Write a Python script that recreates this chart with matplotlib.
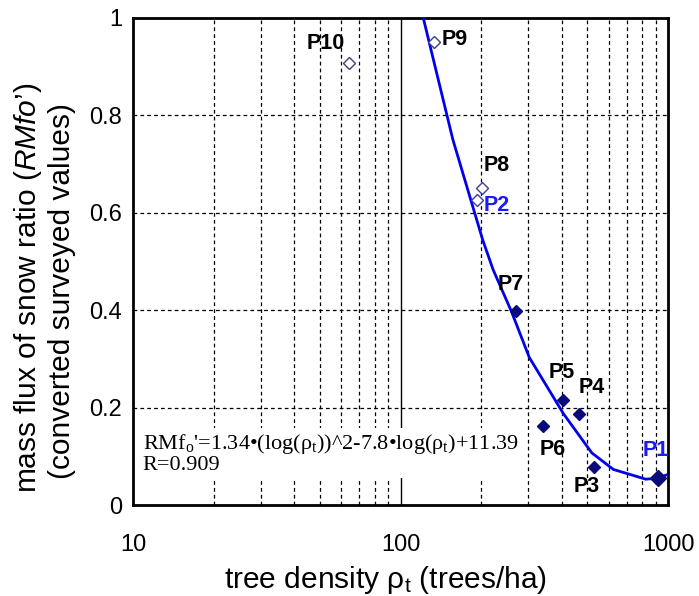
import matplotlib
matplotlib.use("Agg")
import matplotlib.pyplot as plt
from matplotlib.ticker import FixedLocator, NullFormatter

plt.rcParams['font.family'] = ['Liberation Sans', 'DejaVu Sans']
plt.rcParams['mathtext.fontset'] = 'custom'
plt.rcParams['mathtext.rm'] = 'Liberation Sans'
plt.rcParams['mathtext.it'] = 'Liberation Sans:italic'

# Surveyed points (open = P2, P8, P9, P10 ; filled = P3..P7 ; P1 large)
open_labels = ["P10", "P9", "P8", "P2"]
open_x = [64, 133, 202, 193]
open_y = [0.908, 0.951, 0.651, 0.626]

filled_labels = ["P7", "P5", "P4", "P6", "P3"]
filled_x = [270, 405, 465, 341, 529]
filled_y = [0.398, 0.216, 0.187, 0.162, 0.078]

p1_x = [918]
p1_y = [0.055]

# Regression curve
curve_x = [118, 157, 203, 222, 260, 303, 406, 519, 625, 826, 918, 1000]
curve_y = [1.03, 0.75, 0.544, 0.483, 0.397, 0.303, 0.188, 0.107, 0.073, 0.053, 0.055, 0.063]

# Point labels
label_text = ["P10", "P9", "P8", "P2", "P7", "P5", "P4", "P6", "P3", "P1"]
label_x = [52.7, 160, 229.5, 229.5, 259, 401.5, 520, 372, 498, 902]
label_y = [0.947, 0.955, 0.698, 0.616, 0.452, 0.273, 0.242, 0.113, 0.037, 0.111]
label_col = ["black", "black", "black", "#1a1aff", "black", "black", "black", "black", "black", "#1a1aff"]

xticks = [10, 100, 1000]
xtick_labels = ["10", "100", "1000"]
yticks = [0, 0.2, 0.4, 0.6, 0.8, 1]
ytick_labels = ["0", "0.2", "0.4", "0.6", "0.8", "1"]

fig = plt.figure(figsize=(6.99, 5.96), dpi=100)
ax = fig.add_axes([133/699, 1-505/596, (668-133)/699, (505-18)/596])
ax.set_xscale('log')
ax.set_xlim(10, 1000)
ax.set_ylim(0, 1)

# grid
minor = [m*10**d for d in (1, 2) for m in range(2, 10)]
for v in minor:
    ax.axvline(v, color='black', lw=0.9, ls=(0, (3, 2.5)), zorder=1)
ax.axvline(100, color='black', lw=1.0, zorder=1)
for v in [0.2, 0.4, 0.6, 0.8]:
    ax.axhline(v, color='black', lw=0.9, ls=(0, (3, 2.5)), zorder=1)

ax.plot(curve_x, curve_y, color='#0000ee', lw=2.0, zorder=3, clip_on=True)

ax.plot(open_x, open_y, ls='none', marker='D', ms=6, mfc='white', mec='#3c3c96', mew=1.0, zorder=4)
ax.plot(filled_x, filled_y, ls='none', marker='D', ms=6, mfc='#0a0a78', mec='#0a0a78', zorder=4)
ax.plot(p1_x, p1_y, ls='none', marker='D', ms=8.5, mfc='#0a0a78', mec='#0a0a78', zorder=5, clip_on=False)

for t, x, y, c in zip(label_text, label_x, label_y, label_col):
    ax.text(x, y, t, color=c, fontsize=15.5, fontweight='bold', ha='center', va='center', zorder=6)

ax.text(0.018, 0.105,
        "RMf$_\\mathregular{o}$'=1.34\u2022(log(\u03c1$_\\mathregular{t}$))^2-7.8\u2022log(\u03c1$_\\mathregular{t}$)+11.39\nR=0.909",
        transform=ax.transAxes, family=['Liberation Serif', 'DejaVu Serif'], fontsize=16,
        ha='left', va='center', linespacing=1.0, zorder=5,
        bbox=dict(facecolor='white', edgecolor='none', pad=2))

ax.xaxis.set_major_locator(FixedLocator(xticks))
ax.set_xticklabels(xtick_labels)
ax.xaxis.set_minor_formatter(NullFormatter())
ax.set_yticks(yticks)
ax.set_yticklabels(ytick_labels)
ax.tick_params(axis='both', which='both', length=0, labelsize=17)
ax.tick_params(axis='x', pad=21)
ax.tick_params(axis='y', pad=8)

for s in ax.spines.values():
    s.set_linewidth(2)
    s.set_color('black')

fig.text(385/699, 1-580/596, "tree density \u03c1$_\\mathregular{t}$ (trees/ha)",
         fontsize=21.5, ha='center', va='center')
fig.text(28/699, 1-288/596, "mass flux of snow ratio ($\\mathit{RMfo}$\u2019)", rotation=90,
         fontsize=21.5, ha='center', va='center')
fig.text(62/699, 1-291/596, "(converted surveyed values)", rotation=90,
         fontsize=21.5, ha='center', va='center')

fig.savefig("out.png", dpi=100)
